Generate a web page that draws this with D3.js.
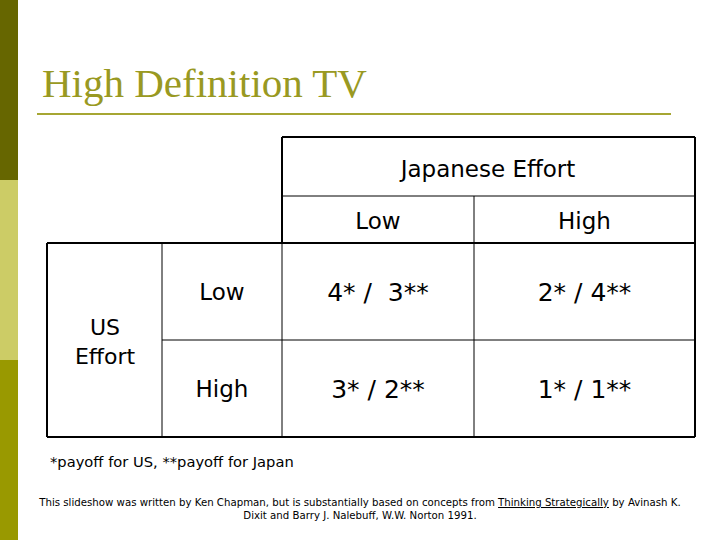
<!DOCTYPE html>
<html><head><meta charset="utf-8">
<script src="https://cdn.jsdelivr.net/npm/d3@7"></script>
<style>body{margin:0;background:#fff}</style>
</head><body><div id="slide"></div>
<script>
const colLabels = ["Low", "High"],
      rowLabels = ["Low", "High"],
      payoffs = [["4* /  3**", "2* / 4**"], ["3* / 2**", "1* / 1**"]],
      barColors = ["#666600", "#cccc66", "#999900"];

const width = 720, height = 540;
const svg = d3.select("#slide").append("svg")
    .attr("width", width).attr("height", height);

// left band
svg.selectAll(".band").data(barColors).join("rect")
    .attr("x", 0).attr("y", (d, i) => i * 180)
    .attr("width", 18).attr("height", 180).attr("fill", d => d);

svg.append("text").attr("x", 42).attr("y", 97)
    .attr("font-family", "Liberation Serif").attr("font-size", 41)
    .attr("fill", "#999922").text("High Definition TV");
svg.append("line").attr("x1", 37).attr("x2", 671).attr("y1", 114).attr("y2", 114)
    .attr("stroke", "#a6a633").attr("stroke-width", 2);

// table geometry
const colX = d => d === "Low" ? 282 : 474, colW = d => d === "Low" ? 192 : 221;
const y = d3.scaleBand().domain(rowLabels).range([243, 437]);

const g = svg.append("g").attr("font-family", "DejaVu Sans").attr("fill", "#000");
const line = (x1, y1, x2, y2, w) => g.append("line")
    .attr("x1", x1).attr("y1", y1).attr("x2", x2).attr("y2", y2)
    .attr("stroke", "#000").attr("stroke-width", w || 1);

line(282, 137, 695, 137, 2); line(282, 137, 282, 243, 2); line(695, 137, 695, 437, 2);
line(282, 196, 695, 196);
line(474, 196, 474, 437);
line(47, 243, 695, 243, 2);
line(47, 243, 47, 437, 2); line(47, 437, 695, 437, 2);
line(162, 243, 162, 437);
line(282, 243, 282, 437);
line(162, 340, 695, 340);

g.append("text").attr("x", 488).attr("y", 177).attr("text-anchor", "middle")
    .attr("font-size", 23).text("Japanese Effort");
g.selectAll(".ch").data(colLabels).join("text")
    .attr("x", d => colX(d) + colW(d) / 2).attr("y", 229)
    .attr("text-anchor", "middle").attr("font-size", 23).text(d => d);
g.selectAll(".rh").data(rowLabels).join("text")
    .attr("x", 222).attr("y", d => y(d) + y.bandwidth() / 2 + 8)
    .attr("text-anchor", "middle").attr("font-size", 23).text(d => d);
rowLabels.forEach((r, i) => colLabels.forEach((c, j) => {
  g.append("text").attr("x", colX(c) + colW(c) / 2).attr("y", y(r) + y.bandwidth() / 2 + 9)
    .attr("text-anchor", "middle").attr("font-size", 25).attr("xml:space", "preserve")
    .text(payoffs[i][j]);
}));
g.append("text").attr("x", 105).attr("y", 335).attr("text-anchor", "middle")
    .attr("font-size", 22).text("US");
g.append("text").attr("x", 105).attr("y", 364).attr("text-anchor", "middle")
    .attr("font-size", 22).text("Effort");

g.append("text").attr("x", 50).attr("y", 467).attr("font-size", 14.7)
    .text("*payoff for US, **payoff for Japan");
const foot = g.append("text").attr("x", 360).attr("y", 506).attr("text-anchor", "middle")
    .attr("font-size", 10.2);
foot.append("tspan").text("This slideshow was written by Ken Chapman, but is substantially based on concepts from ");
foot.append("tspan").attr("text-decoration", "underline").text("Thinking Strategically");
foot.append("tspan").text(" by Avinash K.");
g.append("text").attr("x", 360).attr("y", 519).attr("text-anchor", "middle")
    .attr("font-size", 10.2).text("Dixit and Barry J. Nalebuff, W.W. Norton 1991.");
</script></body></html>
